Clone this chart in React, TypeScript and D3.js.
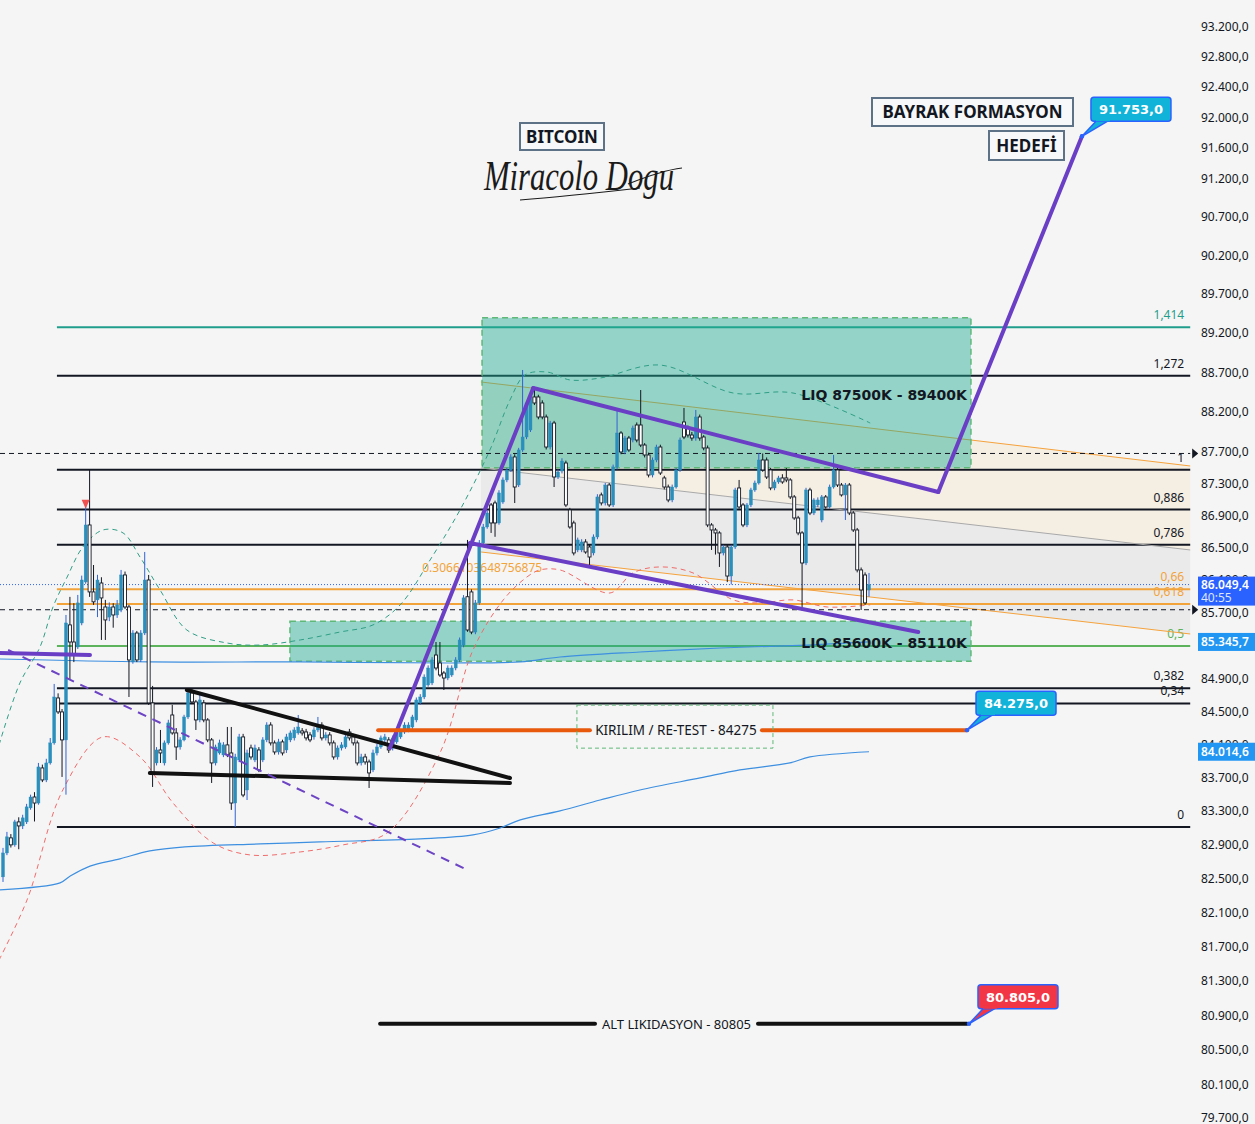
import { useEffect, useRef } from 'react';
import * as d3 from 'd3';

const WIDTH = 1255;
const HEIGHT = 1124;

// open, high, low, close per bar
const CANDLES: [number, number, number, number][] = [
  [82523, 82866, 82463, 82806], [82806, 83056, 82780, 82997], [82985, 83030, 82870, 82902], [82902, 83200, 82880, 83175],
  [83175, 83230, 82850, 83127], [83127, 83260, 83090, 83223], [83175, 83390, 83150, 83354], [83342, 83500, 83320, 83472],
  [83472, 83530, 83180, 83400], [83400, 83880, 83380, 83832], [83820, 83860, 83650, 83676], [83676, 83930, 83650, 83880],
  [83880, 84180, 83860, 84121], [84121, 84834, 84100, 84676], [84664, 84720, 84470, 84495], [84495, 84530, 83712, 84157],
  [84157, 85676, 83500, 85578], [85554, 85898, 84882, 85345], [85345, 85820, 85100, 85186], [85284, 85922, 85260, 85824],
  [85578, 86160, 85550, 86106], [86082, 87024, 86060, 86787], [86787, 87473, 85898, 85959], [85959, 86291, 85800, 85837],
  [85861, 86170, 85650, 86106], [86069, 86140, 85370, 85885], [85774, 85861, 85370, 85615], [85650, 85830, 85600, 85774],
  [85774, 85820, 85520, 85676], [85676, 85860, 85640, 85800], [85737, 86230, 85710, 86168], [86168, 86210, 85750, 85774],
  [85774, 85800, 84676, 85126], [85102, 85490, 85080, 85455], [85455, 85480, 85100, 85126], [85126, 85490, 85100, 85455],
  [85455, 86452, 85430, 86106], [86106, 86168, 84580, 84604], [84604, 84810, 83592, 83760], [83880, 84070, 83850, 84036],
  [84036, 84277, 83880, 84000], [83880, 84150, 83850, 84121], [84121, 84400, 84100, 84362], [84458, 84580, 84220, 84241],
  [84241, 84300, 83916, 84072], [84072, 84190, 84040, 84157], [84157, 84460, 84140, 84434], [84434, 84760, 84410, 84725],
  [84725, 84785, 84590, 84616], [84616, 84640, 84277, 84398], [84398, 84700, 84370, 84640], [84604, 84640, 84370, 84398],
  [84398, 84420, 84130, 84157], [84157, 84180, 83640, 83880], [83880, 84100, 83850, 84072], [84000, 84160, 83980, 84121],
  [83976, 84130, 83950, 84097], [84097, 84313, 83950, 83976], [84000, 84313, 83318, 83400], [83400, 83990, 83115, 83952],
  [83916, 84230, 83890, 84193], [84193, 84230, 83470, 83496], [83556, 84040, 83436, 84000], [84060, 84100, 83920, 83952],
  [83916, 84100, 83890, 84060], [84036, 84070, 83770, 83796], [83916, 84190, 83890, 84157], [84157, 84370, 84130, 84337],
  [84337, 84370, 84090, 84121], [84121, 84150, 83980, 84012], [84012, 84170, 83980, 84133], [84133, 84160, 83970, 84000],
  [84036, 84230, 84000, 84193], [84157, 84270, 84130, 84241], [84181, 84310, 84150, 84277], [84241, 84458, 84220, 84313],
  [84265, 84300, 84210, 84241], [84253, 84290, 84150, 84181], [84217, 84250, 84130, 84157], [84193, 84310, 84160, 84277],
  [84277, 84434, 84250, 84337], [84337, 84370, 84150, 84181], [84181, 84250, 84150, 84217], [84217, 84250, 84090, 84121],
  [84121, 84150, 83920, 83952], [83952, 84090, 83920, 84060], [84060, 84130, 84030, 84097], [84072, 84230, 84050, 84193],
  [84253, 84290, 84150, 84181], [84193, 84230, 84090, 84121], [84121, 84150, 83850, 83880], [83880, 83990, 83850, 83952],
  [83952, 83990, 83860, 83892], [83892, 83920, 83580, 83760], [83796, 84040, 83770, 84000], [84000, 84110, 83970, 84072],
  [84072, 84210, 84050, 84181], [84157, 84230, 84130, 84193], [84157, 84190, 84000, 84036], [84060, 84210, 84030, 84181],
  [84133, 84270, 84110, 84241], [84193, 84290, 84170, 84253], [84253, 84370, 84230, 84337], [84277, 84370, 84250, 84337],
  [84313, 84460, 84290, 84434], [84398, 84670, 84370, 84640], [84604, 84710, 84580, 84676], [84676, 84950, 84650, 84918],
  [84822, 85060, 84800, 85028], [84846, 85160, 84820, 85126], [85186, 85345, 85000, 85028], [85089, 85345, 84920, 84943],
  [84967, 84990, 84761, 84906], [84906, 85060, 84880, 85028], [84943, 85060, 84920, 85028], [85028, 85160, 85000, 85126],
  [85126, 85400, 85100, 85370], [85308, 85920, 85280, 85886], [85900, 86601, 85470, 85492], [85959, 85990, 85440, 85467],
  [85467, 85860, 85440, 85824], [85824, 86600, 85800, 86564], [86564, 86800, 86540, 86762], [86762, 86970, 86740, 86936],
  [87036, 87060, 86688, 86812], [87061, 87090, 86640, 86812], [86812, 87220, 86790, 87186], [87073, 87380, 87050, 87348],
  [87348, 87500, 87320, 87473], [87473, 87670, 87450, 87636], [87636, 87670, 87060, 87260], [87285, 87750, 87260, 87724],
  [87724, 88734, 87700, 87887], [87887, 88340, 87860, 88316], [87975, 88430, 87950, 88392], [88392, 88505, 88290, 88316],
  [88392, 88420, 88110, 88139], [88316, 88350, 88110, 88139], [88139, 88170, 87730, 87761], [87761, 88090, 87730, 88063],
  [88063, 88090, 87260, 87385], [87385, 87480, 87360, 87448], [87460, 87620, 87430, 87585], [87560, 87590, 87010, 87036],
  [86974, 87000, 86740, 86762], [86812, 86840, 86410, 86440], [86477, 86630, 86450, 86601], [86477, 86610, 86450, 86576],
  [86576, 86610, 86430, 86452], [86514, 86540, 86267, 86390], [86440, 86670, 86410, 86638], [86638, 87170, 86610, 87136],
  [87161, 87190, 87030, 87061], [87061, 87310, 87030, 87285], [87285, 87310, 87010, 87036], [87036, 87540, 87010, 87511],
  [87511, 88228, 87480, 87937], [87937, 87960, 87670, 87699], [87699, 87900, 87670, 87874], [87874, 87900, 87700, 87724],
  [87849, 88030, 87820, 88000], [88038, 88070, 87820, 87849], [88038, 88480, 87760, 87786], [87786, 87810, 87630, 87661],
  [87661, 87690, 87380, 87410], [87410, 87630, 87380, 87598], [87598, 87790, 87570, 87761], [87761, 87790, 87410, 87435],
  [87373, 87400, 87230, 87260], [87260, 87290, 87070, 87098], [87098, 87290, 87070, 87260], [87260, 87500, 87240, 87473],
  [87473, 87880, 87450, 87849], [88076, 88253, 87860, 87887], [88000, 88030, 87880, 87912], [87912, 87950, 87840, 87874],
  [87874, 88228, 87840, 88139], [88139, 88170, 87840, 87874], [87887, 87910, 87720, 87749], [87749, 87780, 86760, 86787],
  [86787, 86810, 86477, 86725], [86725, 86750, 86420, 86688], [86688, 86710, 86267, 86440], [86440, 86540, 86410, 86514],
  [86514, 86540, 86080, 86155], [86155, 86540, 86050, 86514], [86514, 87250, 86490, 87223], [87248, 87348, 86990, 87011],
  [87036, 87060, 86760, 86787], [86787, 87060, 86760, 87036], [87036, 87250, 87010, 87223], [87223, 87340, 87200, 87310],
  [87310, 87686, 87290, 87598], [87598, 87680, 87450, 87473], [87598, 87630, 87360, 87385], [87473, 87500, 87220, 87248],
  [87248, 87350, 87220, 87323], [87323, 87400, 87300, 87373], [87373, 87420, 87300, 87323], [87373, 87498, 87320, 87348],
  [87348, 87370, 87110, 87136], [87136, 87160, 86850, 86874], [86874, 86900, 86660, 86688], [86688, 86710, 85737, 86316],
  [86316, 87250, 86290, 87223], [87223, 87250, 86910, 86936], [86936, 87120, 86910, 87098], [87036, 87130, 87010, 87098],
  [86849, 87160, 86820, 87136], [87136, 87160, 86990, 87011], [87011, 87290, 86990, 87260], [87260, 87661, 87240, 87473],
  [87473, 87500, 87260, 87285], [87285, 87310, 87140, 87161], [87161, 87310, 86849, 87285], [87285, 87310, 86910, 86936],
  [86936, 86960, 86700, 86725], [86725, 86750, 86200, 86230], [86230, 86260, 85737, 85983], [86168, 86200, 85800, 85824],
  [85983, 86193, 85900, 86049],
];

// right axis labels; 85.300 sits fully under the 85.345,7 badge
const PRICE_TICKS = [
  93200, 92800, 92400, 92000, 91600, 91200, 90700, 90200, 89700, 89200, 88700, 88200, 87700, 87300, 86900,
  86500, 85700, 84900, 84500, 83700, 83300, 82900, 82500, 82100, 81700, 81300, 80900,
  80500, 80100, 79700,
];
// labels half hidden behind a badge
const PARTIAL_TICKS = [86100, 84100];

// fibonacci retracement
const FIB_LOW = 83115;
const FIB_HIGH = 87475;
const FIB_RATIOS = [1.414, 1.272, 1, 0.886, 0.786, 0.66, 0.618, 0.5, 0.382, 0.34, 0];
const FIB_LABELS = ['1,414', '1,272', '1', '0,886', '0,786', '0,66', '0,618', '0,5', '0,382', '0,34', '0'];
const FIB_COLORS = ['#1f9e8c', '#131722', '#131722', '#131722', '#131722', '#f2a33a', '#f2a33a', '#5cb35c', '#131722', '#131722', '#131722'];

// moving averages and envelope curves: [bar index, price]
const MA_SLOW: [number, number][] = [
  [-1, 82370], [14.5, 82452], [17, 82530], [22.1, 82650], [29.7, 82736], [37.3, 82830], [46.2, 82878], [65.3, 82913],
  [80.5, 82937], [106, 82973], [119.4, 83020], [126.3, 83103], [131.4, 83199], [141.5, 83306], [151.7, 83436],
  [161.8, 83556], [177.1, 83700], [187.2, 83796], [199.9, 83880], [205, 83952], [220, 84014.6],
];
const MA_FAST: [number, number][] = [
  [-1, 85138], [37.3, 85102], [75.5, 85102], [113.6, 85089], [131.4, 85102], [141.5, 85162], [161.8, 85223],
  [182.2, 85272], [204.3, 85308], [220, 85345.7],
];
const CURVE_TEAL: [number, number][] = [
  [-1, 84097], [4.3, 84846], [9.4, 85284], [12.7, 85774], [16.3, 86143], [20.3, 86514], [25.4, 86725], [30.5, 86688],
  [34.8, 86390], [39.9, 85983], [46.7, 85492], [56.9, 85333], [65.3, 85308], [75.5, 85370], [85.6, 85467],
  [94, 85554], [100.9, 85800], [108.5, 86353], [116.1, 86974], [123.7, 87724], [128.8, 88354], [132.6, 88670],
  [138.2, 88708], [144.1, 88607], [151.7, 88632], [166.9, 88797], [185.5, 88442], [200.7, 88442], [220.3, 88063],
];
const CURVE_RED: [number, number][] = [
  [-1, 81547], [6.1, 82250], [15.2, 83556], [25.4, 84193], [34.8, 83952], [43.2, 83400], [53.4, 82925],
  [62.7, 82783], [75.5, 82818], [86.4, 82902], [97.6, 83044], [111, 84000], [119.4, 85247], [127.1, 85861],
  [133.1, 86143], [136.4, 86230], [141.5, 86230], [154.2, 85946], [160, 86193], [166.9, 86267], [175.3, 86193],
  [185.5, 85861], [192.3, 85824], [200.7, 85861], [209.4, 85774], [220.3, 85800],
];

// annotations: [bar index, price]
const PURPLE_SOLID: [number, number][][] = [
  [[-1, 85211], [22.1, 85186]],
  [[98.3, 84060], [134.7, 88505]],
  [[134.7, 88505], [237.6, 87198]],
  [[118.6, 86564], [232.5, 85467]],
  [[237.6, 87198], [274.1, 91753]],
];
const PURPLE_DASHED: [number, number][] = [[1.3, 85247], [117.9, 82606]];
const TRIANGLE_LINES: [number, number][][] = [
  [[46.7, 84761], [128.8, 83700]],
  [[37.3, 83760], [128.8, 83640]],
];
const CHANNEL_X = [121.4, 301.6];
const CHANNEL_TOP = [88582, 87523];
const CHANNEL_MID = [87498, 86477];
const CHANNEL_BOTTOM = [86452, 85443];

const LIQ_ZONES = [
  { from: 121.7, to: 245.9, low: 87500, high: 89400, label: 'LIQ  87500K - 89400K', at: 88417 },
  { from: 72.9, to: 245.9, low: 85110, high: 85600, label: 'LIQ 85600K - 85110K', at: 85330 },
];

const FIB_X = [13.7, 301.6];
const HL_LINES = [87680, 85740];
const LAST_PRICE = 86049.4;

const BREAK_LEVEL = { price: 84275, from: 95.3, gapFrom: 149.1, gapTo: 192.8, to: 244.9, label: 'KIRILIM / RE-TEST - 84275' };
const LOW_LEVEL = { price: 80805, from: 95.8, gapFrom: 150.4, gapTo: 191.8, to: 244.9, label: 'ALT LIKIDASYON - 80805' };

const CALLOUTS = [
  { bar: 274.1, price: 91753, fill: '#12b3d8' },
  { bar: 244.9, price: 84275, fill: '#12b3d8' },
  { bar: 245.4, price: 80805, fill: '#f23645' },
];

const AXIS_BADGES = [
  { price: 85345.7, fill: '#2196f3' },
  { price: 84014.6, fill: '#2196f3' },
];

const fmt = d3.formatLocale({ decimal: ',', thousands: '.', grouping: [3], currency: ['', ''] }).format(',.1f');

export default function App() {
  const svgRef = useRef<SVGSVGElement>(null);

  useEffect(() => {
    if (!svgRef.current) return;
    const svg = d3.select(svgRef.current);
    svg.selectAll('*').remove();

    const x = d3.scaleLinear().domain([0, 220]).range([3, 869]);
    const y = d3.scaleLog().domain([79700, 93200]).range([1120, 27]);
    const plotRight = x(301.6);
    const axisFont = 'Noto Sans, DejaVu Sans, sans-serif';

    svg.append('rect').attr('width', WIDTH).attr('height', HEIGHT).attr('fill', '#f5f5f5');

    const line = d3.line<[number, number]>().x(d => x(d[0])).y(d => y(d[1]));
    const smooth = d3.line<[number, number]>().x(d => x(d[0])).y(d => y(d[1])).curve(d3.curveCatmullRom.alpha(0.5));

    // channel fills
    const [cx0, cx1] = CHANNEL_X;
    const band = (a: number[], b: number[]) =>
      `M${x(cx0)},${y(a[0])}L${x(cx1)},${y(a[1])}L${x(cx1)},${y(b[1])}L${x(cx0)},${y(b[0])}Z`;
    svg.append('path').attr('d', band(CHANNEL_TOP, CHANNEL_MID)).attr('fill', 'rgba(255,152,0,0.07)');
    svg.append('path').attr('d', band(CHANNEL_MID, CHANNEL_BOTTOM)).attr('fill', 'rgba(0,0,0,0.045)');

    // fib levels
    FIB_RATIOS.forEach((r, i) => {
      const py = y(FIB_LOW + r * (FIB_HIGH - FIB_LOW));
      svg.append('line')
        .attr('x1', x(FIB_X[0])).attr('x2', x(FIB_X[1]))
        .attr('y1', py).attr('y2', py)
        .attr('stroke', FIB_COLORS[i]).attr('stroke-width', 2);
      svg.append('text')
        .attr('x', plotRight - 6).attr('y', py - 8)
        .attr('text-anchor', 'end')
        .attr('font-family', axisFont).attr('font-size', 12)
        .attr('fill', FIB_COLORS[i])
        .text(FIB_LABELS[i]);
    });

    // channel lines
    [[CHANNEL_TOP, '#f5a23c'], [CHANNEL_MID, '#a9a9a9'], [CHANNEL_BOTTOM, '#f5a23c']].forEach(([p, c]) => {
      const pp = p as number[];
      svg.append('path')
        .attr('d', line([[cx0, pp[0]], [cx1, pp[1]]]))
        .attr('stroke', c as string).attr('stroke-width', 1).attr('fill', 'none');
    });
    svg.append('text')
      .attr('x', x(106.5)).attr('y', y(86255) + 4)
      .attr('font-family', axisFont).attr('font-size', 12)
      .attr('fill', '#f2a33a')
      .text('0.3066103648756875');

    // liquidity zones
    LIQ_ZONES.forEach(z => {
      svg.append('rect')
        .attr('x', x(z.from)).attr('y', y(z.high))
        .attr('width', x(z.to) - x(z.from)).attr('height', y(z.low) - y(z.high))
        .attr('fill', 'rgba(30,170,145,0.45)')
        .attr('stroke', '#5fb878').attr('stroke-width', 1.5).attr('stroke-dasharray', '6,4');
    });

    // high/low dashed lines and last price
    HL_LINES.forEach(p => {
      svg.append('line')
        .attr('x1', 0).attr('x2', plotRight).attr('y1', y(p)).attr('y2', y(p))
        .attr('stroke', '#131722').attr('stroke-width', 1).attr('stroke-dasharray', '5,4');
      svg.append('path')
        .attr('d', `M${plotRight + 2},${y(p) - 5}L${plotRight + 8},${y(p)}L${plotRight + 2},${y(p) + 5}Z`)
        .attr('fill', '#131722');
    });
    svg.append('line')
      .attr('x1', 0).attr('x2', plotRight).attr('y1', y(LAST_PRICE)).attr('y2', y(LAST_PRICE))
      .attr('stroke', '#2962ff').attr('stroke-width', 1).attr('stroke-dasharray', '1,2');

    // moving averages + envelope curves
    svg.append('path').attr('d', smooth(MA_SLOW)).attr('fill', 'none').attr('stroke', '#3d8fe0').attr('stroke-width', 1.2);
    svg.append('path').attr('d', smooth(MA_FAST)).attr('fill', 'none').attr('stroke', '#3d8fe0').attr('stroke-width', 1.2);
    svg.append('path').attr('d', smooth(CURVE_TEAL)).attr('fill', 'none').attr('stroke', '#2f9e86')
      .attr('stroke-width', 1).attr('stroke-dasharray', '5,4');
    svg.append('path').attr('d', smooth(CURVE_RED)).attr('fill', 'none').attr('stroke', '#f26b6b')
      .attr('stroke-width', 1).attr('stroke-dasharray', '5,4');

    // candles
    const cg = svg.append('g');
    CANDLES.forEach(([o, h, l, c], i) => {
      const cxp = x(i);
      const bull = c >= o;
      cg.append('line')
        .attr('x1', cxp).attr('x2', cxp).attr('y1', y(h)).attr('y2', y(l))
        .attr('stroke', bull ? '#2f62d6' : '#131722').attr('stroke-width', 1);
      const top = y(Math.max(o, c));
      const bh = Math.max(1, y(Math.min(o, c)) - top);
      cg.append('rect')
        .attr('x', cxp - 1.5).attr('y', top).attr('width', 3).attr('height', bh)
        .attr('fill', bull ? '#2a8fbc' : '#ffffff')
        .attr('stroke', bull ? '#2a8fbc' : '#131722').attr('stroke-width', bull ? 0.4 : 0.9);
    });

    // signal marker
    svg.append('path')
      .attr('d', `M${x(21) - 4},${y(87100)}L${x(21) + 4},${y(87100)}L${x(21)},${y(87100) + 9}Z`)
      .attr('fill', '#f0504f');

    // zone labels
    LIQ_ZONES.forEach(z => {
      svg.append('text')
        .attr('x', x(z.to) - 4).attr('y', y(z.at) + 5)
        .attr('text-anchor', 'end')
        .attr('font-family', 'DejaVu Sans, sans-serif').attr('font-size', 14).attr('font-weight', 700)
        .attr('fill', '#131722')
        .text(z.label);
    });

    // converging triangle
    TRIANGLE_LINES.forEach(seg => {
      svg.append('path').attr('d', line(seg)).attr('stroke', '#111').attr('stroke-width', 4)
        .attr('stroke-linecap', 'round').attr('fill', 'none');
    });

    // purple flag drawings
    svg.append('path').attr('d', line(PURPLE_DASHED)).attr('stroke', '#6c44c4').attr('stroke-width', 2)
      .attr('stroke-dasharray', '9,7').attr('fill', 'none');
    PURPLE_SOLID.forEach(seg => {
      svg.append('path').attr('d', line(seg)).attr('stroke', '#6a3fc6').attr('stroke-width', 4)
        .attr('stroke-linecap', 'round').attr('fill', 'none');
    });

    // key levels with inline text
    const level = (lv: typeof BREAK_LEVEL, color: string, width: number, fontSize: number) => {
      const py = y(lv.price);
      [[lv.from, lv.gapFrom], [lv.gapTo, lv.to]].forEach(([a, b]) => {
        svg.append('line').attr('x1', x(a)).attr('x2', x(b)).attr('y1', py).attr('y2', py)
          .attr('stroke', color).attr('stroke-width', width).attr('stroke-linecap', 'round');
      });
      svg.append('text')
        .attr('x', (x(lv.gapFrom) + x(lv.gapTo)) / 2).attr('y', py + 5)
        .attr('text-anchor', 'middle')
        .attr('font-family', 'Noto Sans, sans-serif').attr('font-size', fontSize)
        .attr('fill', '#131722')
        .text(lv.label);
      return py;
    };
    const breakY = level(BREAK_LEVEL, '#e8590c', 4, 13.5);
    svg.append('rect')
      .attr('x', x(145.8)).attr('y', breakY - 25).attr('width', x(195.6) - x(145.8)).attr('height', 43)
      .attr('fill', 'none').attr('stroke', '#5fb878').attr('stroke-width', 1).attr('stroke-dasharray', '4,3');
    level(LOW_LEVEL, '#111111', 4, 13);

    // price callouts
    CALLOUTS.forEach(cl => {
      const ax = x(cl.bar);
      const ay = y(cl.price);
      const bx = ax + 9;
      const by = ay - 39;
      const bw = 80;
      const bhgt = 24;
      svg.append('path')
        .attr('d', `M${bx + 6},${by + bhgt - 1}L${ax},${ay}L${bx + 18},${by + bhgt - 1}Z`)
        .attr('fill', cl.fill).attr('stroke', '#2962ff').attr('stroke-width', 1.5).attr('stroke-linejoin', 'round');
      svg.append('rect')
        .attr('x', bx).attr('y', by).attr('width', bw).attr('height', bhgt).attr('rx', 3)
        .attr('fill', cl.fill).attr('stroke', '#2962ff').attr('stroke-width', 1.5);
      svg.append('rect')
        .attr('x', bx + 5).attr('y', by + bhgt - 3).attr('width', 14).attr('height', 3)
        .attr('fill', cl.fill);
      svg.append('circle').attr('cx', ax).attr('cy', ay).attr('r', 2.2).attr('fill', '#2962ff');
      svg.append('text')
        .attr('x', bx + bw / 2).attr('y', by + 17)
        .attr('text-anchor', 'middle')
        .attr('font-family', 'DejaVu Sans, sans-serif').attr('font-size', 13).attr('font-weight', 700)
        .attr('fill', '#ffffff')
        .text(fmt(cl.price));
    });

    // signature
    const sig = svg.append('g');
    sig.append('text')
      .attr('x', 484).attr('y', 190)
      .attr('font-family', 'Liberation Serif, serif').attr('font-style', 'italic')
      .attr('font-size', 42)
      .attr('textLength', 190).attr('lengthAdjust', 'spacingAndGlyphs')
      .attr('fill', '#1b1b1b')
      .text('Miracolo Dogu');
    sig.append('path')
      .attr('d', 'M520,200 C560,197 605,192 640,188 M628,184 C648,176 665,170 682,168')
      .attr('fill', 'none').attr('stroke', '#1b1b1b').attr('stroke-width', 1.2);

    // text boxes
    const tbox = (x0: number, y0: number, w: number, h: number, label: string) => {
      svg.append('rect').attr('x', x0).attr('y', y0).attr('width', w).attr('height', h)
        .attr('fill', '#f7f8fa').attr('stroke', '#5d7287').attr('stroke-width', 2);
      svg.append('text')
        .attr('x', x0 + w / 2).attr('y', y0 + h / 2 + 6)
        .attr('text-anchor', 'middle')
        .attr('font-family', 'Noto Sans, sans-serif').attr('font-size', 17).attr('font-weight', 700)
        .attr('fill', '#131722')
        .text(label);
    };
    tbox(520, 123, 84, 27, 'BITCOIN');
    tbox(872, 98, 201, 28, 'BAYRAK FORMASYON');
    tbox(989, 131, 75, 29, 'HEDEFİ');

    // right price axis
    const ax = svg.append('g');
    PRICE_TICKS.forEach(t => {
      ax.append('text')
        .attr('x', 1201).attr('y', Math.min(y(t) + 4, 1122))
        .attr('font-family', axisFont).attr('font-size', 12)
        .attr('fill', '#131722')
        .text(fmt(t));
    });
    const clip = svg.append('defs').append('clipPath').attr('id', 'partial-ticks');
    PARTIAL_TICKS.forEach(t => {
      clip.append('rect').attr('x', 1195).attr('y', y(t) - 12).attr('width', 60).attr('height', 11);
    });
    const partial = ax.append('g').attr('clip-path', 'url(#partial-ticks)');
    PARTIAL_TICKS.forEach(t => {
      partial.append('text')
        .attr('x', 1201).attr('y', y(t) + 4)
        .attr('font-family', axisFont).attr('font-size', 12)
        .attr('fill', '#131722')
        .text(fmt(t));
    });
    AXIS_BADGES.forEach(b => {
      const py = y(b.price);
      ax.append('rect').attr('x', 1198).attr('y', py - 9).attr('width', 57).attr('height', 18).attr('fill', b.fill);
      ax.append('text')
        .attr('x', 1201).attr('y', py + 4.5)
        .attr('font-family', axisFont).attr('font-size', 12).attr('font-weight', 600)
        .attr('fill', '#ffffff')
        .text(fmt(b.price));
    });
    const lp = y(LAST_PRICE);
    ax.append('rect').attr('x', 1198).attr('y', lp - 8).attr('width', 57).attr('height', 29).attr('fill', '#2962ff');
    ax.append('text')
      .attr('x', 1201).attr('y', lp + 4)
      .attr('font-family', axisFont).attr('font-size', 12).attr('font-weight', 600)
      .attr('fill', '#ffffff').text(fmt(LAST_PRICE));
    ax.append('text')
      .attr('x', 1201).attr('y', lp + 17)
      .attr('font-family', axisFont).attr('font-size', 12)
      .attr('fill', '#dfe6ff').text('40:55');
  }, []);

  return (
    <svg
      ref={svgRef}
      width={WIDTH}
      height={HEIGHT}
      style={{ position: 'absolute', left: 0, top: 0, display: 'block' }}
      role="img"
      aria-label="Bitcoin hourly chart with bull flag formation, Fibonacci levels and liquidity zones"
    />
  );
}
